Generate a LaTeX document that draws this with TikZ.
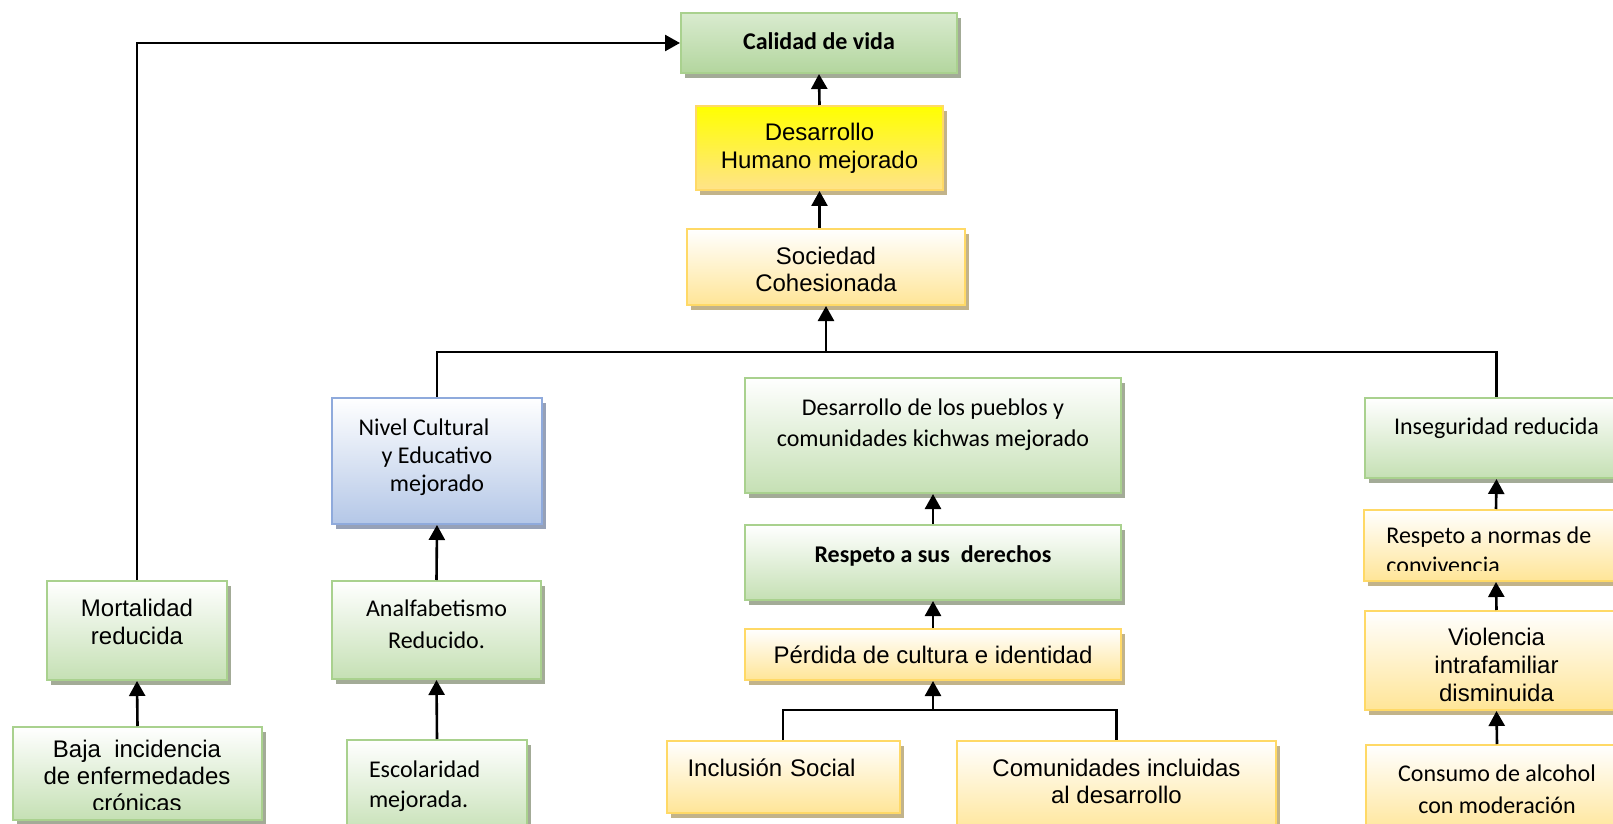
\documentclass[tikz,border=0pt]{standalone}
\usepackage{fontspec}
\setmainfont{Liberation Sans}
\newfontfamily\calibri{Carlito}
\usetikzlibrary{arrows.meta,shadows}
\definecolor{grnline}{HTML}{A9D18E}
\definecolor{grnfill}{HTML}{C5E0B4}
\definecolor{grnshade}{HTML}{A3AB97}
\definecolor{caltop}{HTML}{D9EBCF}
\definecolor{calbottom}{HTML}{B3D69E}
\definecolor{yelline}{HTML}{FFD966}
\definecolor{yelfill}{HTML}{FFE597}
\definecolor{yelshade}{HTML}{C2B38A}
\definecolor{humtop}{HTML}{FFFF00}
\definecolor{humbottom}{HTML}{FFE38A}
\definecolor{bluline}{HTML}{8FAADC}
\definecolor{blufill}{HTML}{B4C7E7}
\definecolor{blushade}{HTML}{96A1B8}
\begin{document}
\begin{tikzpicture}[x=0.5pt, y=-0.5pt,
    panel/.style={rectangle, inner sep=0pt, line width=1pt, text height=9pt, text depth=0pt, align=center},
    greenbox/.style={panel, draw=grnline, top color=white, bottom color=grnfill,
      drop shadow={shadow xshift=2pt, shadow yshift=-2.5pt, fill=grnshade, opacity=1}},
    calbox/.style={greenbox, top color=caltop, bottom color=calbottom},
    yelbox/.style={panel, draw=yelline, top color=white, bottom color=yelfill,
      drop shadow={shadow xshift=2pt, shadow yshift=-2.5pt, fill=yelshade, opacity=1}},
    humbox/.style={yelbox, top color=humtop, bottom color=humbottom},
    blubox/.style={panel, draw=bluline, top color=white, bottom color=blufill,
      drop shadow={shadow xshift=2pt, shadow yshift=-2.5pt, fill=blushade, opacity=1}},
    arial/.style={font=\fontsize{12}{#1}\selectfont}, arial/.default=13.8,
    cali/.style={font=\calibri\fontsize{12}{#1}\selectfont}, cali/.default=15,
    calibold/.style={font=\calibri\bfseries\fontsize{12}{15}\selectfont},
    conn/.style={line width=1.3pt},
    arr/.style={conn, -{Triangle[length=7.5pt, width=8pt]}}]
\useasboundingbox (0,0) rectangle (1613,824);

\node[calbox, minimum width=138pt, minimum height=30pt, text depth=2pt, calibold] (calidad) at (819,43) {Calidad de vida};
\node[humbox, minimum width=123.5pt, minimum height=42pt, text height=21pt, arial=14] (humano) at (819.5,148) {Desarrollo\\Humano mejorado};
\node[yelbox, minimum width=139pt, minimum height=38pt, text height=25pt, arial=13.5] (sociedad) at (826,267) {Sociedad\\Cohesionada};

\node[blubox, minimum width=105pt, minimum height=63pt, text height=30pt, cali=14] (nivel) at (437,461) {Nivel Cultural\hspace*{13pt}\\y Educativo\\mejorado};
\node[greenbox, minimum width=104.5pt, minimum height=49pt, text height=18pt, cali=16] (analf) at (436.5,630) {Analfabetismo\\Reducido.};
\node[greenbox, minimum width=90pt, minimum height=48pt, text depth=20pt, cali=15, text width=68pt, inner xsep=11pt, align=left] (escol) at (437,788) {Escolaridad\\mejorada.};

\node[greenbox, minimum width=90pt, minimum height=49.5pt, text height=13.5pt, arial=14] (mort) at (137,630.5) {Mortalidad\\reducida};
\node[greenbox, minimum width=124.5pt, minimum height=46.5pt] (baja) at (137.5,773.5) {};
\begin{scope}
  \clip (baja.north west) rectangle (262,809);
  \node[arial=13.5, anchor=base, align=center, inner sep=0pt] (bajatxt) at (137,811) {Baja~~incidencia\\de enfermedades\\crónicas};
\end{scope}

\node[greenbox, minimum width=188pt, minimum height=57.5pt, text height=10.5pt, cali=15.5] (pueblos) at (933,435.5) {Desarrollo de los pueblos y\\comunidades kichwas mejorado};
\node[greenbox, minimum width=188pt, minimum height=37.5pt, text depth=9.5pt, calibold] (derechos) at (933,562.5) {Respeto a sus~~derechos};
\node[yelbox, minimum width=188pt, minimum height=25.5pt, arial] (perdida) at (933,654.5) {Pérdida de cultura e identidad};
\node[yelbox, minimum width=116pt, minimum height=36pt, text depth=10pt, arial, text width=95.5pt, inner xsep=10.5pt, align=left] (inclusion) at (783,777) {Inclusión Social};
\node[yelbox, minimum width=159.5pt, minimum height=47pt, text height=15pt, arial=13.5] (comun) at (1116.5,788) {Comunidades incluidas\\al desarrollo};

\node[greenbox, minimum width=131.5pt, minimum height=40pt, text depth=13pt, cali] (inseg) at (1496.5,438) {Inseguridad reducida};
\node[yelbox, minimum width=132pt, minimum height=35.5pt] (normas) at (1496,545.5) {};
\begin{scope}
  \clip (normas.north west) rectangle (1628,570);
  \node[cali=15, anchor=base west, align=left, inner sep=0pt] (normastxt) at (1386,573) {Respeto a normas de\\convivencia};
\end{scope}
\node[yelbox, minimum width=131.5pt, minimum height=49.5pt, text height=40.5pt, arial=13.8] (viol) at (1496.5,660.5) {Violencia\\intrafamiliar\\disminuida};
\node[yelbox, minimum width=131pt, minimum height=45pt, text height=23pt, cali=16] (consumo) at (1497,790) {Consumo de alcohol\\con moderación};

\coordinate (split) at (sociedad.south |- 0,352);
\draw[conn] (nivel.north) |- (split) -| (inseg.north);
\draw[arr] (split) -- (sociedad.south);
\draw[arr] (sociedad.north -| humano.south) -- (humano.south);
\draw[arr] (humano.north) -- (calidad.south);
\draw[arr] (mort.north) |- (calidad.west);
\draw[arr] (baja.north) -- (mort.south);
\draw[arr] (analf.north) -- (nivel.south);
\draw[arr] (escol.north) -- (analf.south);
\draw[arr] (derechos.north) -- (pueblos.south);
\draw[arr] (perdida.north) -- (derechos.south);
\coordinate (split2) at (perdida.south |- 0,710);
\draw[conn] (inclusion.north) |- (split2) -| (comun.north);
\draw[arr] (split2) -- (perdida.south);
\draw[arr] (normas.north) -- (inseg.south);
\draw[arr] (viol.north) -- (normas.south);
\draw[arr] (consumo.north) -- (viol.south);
\end{tikzpicture}
\end{document}
